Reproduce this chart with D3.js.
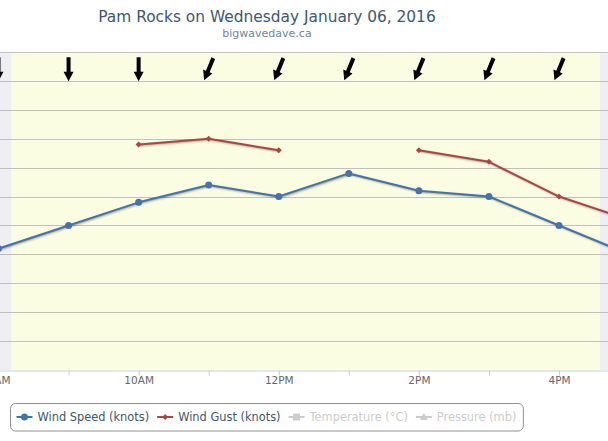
<!DOCTYPE html>
<html>
<head>
<meta charset="utf-8">
<script src="https://cdn.jsdelivr.net/npm/d3@7"></script>
<style>
  html, body { margin: 0; padding: 0; background: #ffffff; overflow: hidden; }
  svg { display: block; font-family: "DejaVu Sans", Verdana, sans-serif; }
</style>
</head>
<body>
<svg id="chart" width="608" height="441"></svg>
<script>
// ---------- data ----------
const times = ["2016-01-06T08:00", "2016-01-06T09:00", "2016-01-06T10:00", "2016-01-06T11:00", "2016-01-06T12:00",
               "2016-01-06T13:00", "2016-01-06T14:00", "2016-01-06T15:00", "2016-01-06T16:00", "2016-01-06T17:00"];
const windSpeed = [8.4, 10, 11.6, 12.8, 12, 13.6, 12.4, 12, 10, 8];
const windGust  = [null, null, 15.6, 16, 15.2, null, 15.2, 14.4, 12, 10.4];
const windDir   = [0, 0, 0, 22.5, 22.5, 22.5, 22.5, 22.5, 22.5, 22.5];
const daylight  = ["2016-01-06T08:11", "2016-01-06T16:35"];
const yTicks    = [0, 2, 4, 6, 8, 10, 12, 14, 16, 18, 20, 22];
const legendItems = [
  { name: "Wind Speed (knots)", color: "#4572A7", symbol: "circle", visible: true },
  { name: "Wind Gust (knots)",  color: "#AA4643", symbol: "diamond", visible: true },
  { name: "Temperature (°C)",   color: "#CCCCCC", symbol: "square", visible: false },
  { name: "Pressure (mb)",      color: "#CCCCCC", symbol: "triangle", visible: false }
];
const titleText = "Pam Rocks on Wednesday January 06, 2016";
const subtitleText = "bigwavedave.ca";

// ---------- setup ----------
const parse = d3.timeParse("%Y-%m-%dT%H:%M");
const T = times.map(parse);
const W = 608, H = 441;
const plotTop = 52, plotBottom = 370;
const svg = d3.select("#chart");

const x = d3.scaleTime().domain([T[0], T[T.length - 1]]).range([-1.5, 629.1]);
const y = d3.scaleLinear().domain([0, 22]).range([plotBottom, plotTop]);

// title
svg.append("text").attr("x", 267).attr("y", 22).attr("text-anchor", "middle")
  .attr("fill", "#3E576F").style("font-size", "15.4px").text(titleText);
svg.append("text").attr("x", 267).attr("y", 36.5).attr("text-anchor", "middle")
  .attr("fill", "#6D869F").style("font-size", "11px").text(subtitleText);

// plot background
const plot = svg.append("g");
plot.append("rect").attr("x", 0).attr("y", plotTop).attr("width", W).attr("height", plotBottom - plotTop)
  .attr("fill", "#EFEEF0");
const band = daylight.map(parse);
plot.append("rect").attr("x", x(band[0])).attr("y", plotTop)
  .attr("width", x(band[1]) - x(band[0])).attr("height", plotBottom - plotTop)
  .attr("fill", "#FBFDE2");

// gridlines
plot.selectAll("line.grid").data(yTicks.filter(v => v > 0)).join("line")
  .attr("class", "grid")
  .attr("x1", 0).attr("x2", W)
  .attr("y1", d => Math.round(y(d)) + 0.5).attr("y2", d => Math.round(y(d)) + 0.5)
  .attr("stroke", "#C0C0C0").attr("stroke-width", 1);

// x axis
const fmt = d3.timeFormat("%-I%p");
const xAxis = d3.axisBottom(x)
  .ticks(d3.timeHour.every(1))
  .tickSize(5).tickSizeOuter(0).tickPadding(1)
  .tickFormat(d => d.getHours() % 2 === 0 ? fmt(d) : "");
const gx = svg.append("g").attr("transform", `translate(0,${plotBottom + 0.5})`).call(xAxis);
gx.select(".domain").attr("stroke", "#C0D0E0");
gx.selectAll(".tick line").attr("stroke", "#C0D0E0");
gx.selectAll(".tick text").attr("fill", "#666666").style("font-size", "10.5px")
  .style("font-family", "DejaVu Sans, Verdana, sans-serif");

// wind direction arrows
const arrowPath = "M-2,-12 L2,-12 L2,2.5 L5,2.5 L0,12 L-5,2.5 L-2,2.5 Z";
svg.append("g").selectAll("path").data(T).join("path")
  .attr("d", arrowPath)
  .attr("fill", "#000000")
  .attr("transform", (d, i) => `translate(${x(d)},69.2) rotate(${windDir[i]})`);

// lines
function drawSeries(values, color, symbol) {
  const pts = T.map((t, i) => ({ t, v: values[i] }));
  const line = d3.line().defined(d => d.v !== null).x(d => x(d.t)).y(d => y(d.v));
  const g = svg.append("g");
  [[5, 0.05], [3, 0.1], [1, 0.15]].forEach(([w, o]) => {
    g.append("path").attr("d", line(pts)).attr("fill", "none")
      .attr("stroke", "#000").attr("stroke-opacity", o).attr("stroke-width", w)
      .attr("stroke-linejoin", "round").attr("transform", "translate(1,1)");
  });
  g.append("path").attr("d", line(pts)).attr("fill", "none")
    .attr("stroke", color).attr("stroke-width", 2).attr("stroke-linejoin", "round");
  g.selectAll("path.m").data(pts.filter(d => d.v !== null)).join("path")
    .attr("class", "m")
    .attr("d", symbol === "circle" ? d3.symbol(d3.symbolCircle, Math.PI * 3.5 * 3.5)() : "M0,-3L3,0L0,3L-3,0Z")
    .attr("fill", color)
    .attr("transform", d => `translate(${x(d.t)},${y(d.v)})`);
}
drawSeries(windSpeed, "#4572A7", "circle");
drawSeries(windGust, "#AA4643", "diamond");

// legend
const leg = svg.append("g");
const legBox = leg.append("rect");
let cx = 16.5;
const ly = 417;
const gap = 8;
legendItems.forEach(it => {
  const g = leg.append("g");
  g.append("line").attr("x1", cx).attr("x2", cx + 16).attr("y1", ly).attr("y2", ly)
    .attr("stroke", it.color).attr("stroke-width", 2);
  const mx = cx + 8;
  let d;
  if (it.symbol === "circle") d = d3.symbol(d3.symbolCircle, Math.PI * 3.5 * 3.5)();
  else if (it.symbol === "diamond") d = "M0,-3L3,0L0,3L-3,0Z";
  else if (it.symbol === "square") d = "M-3.5,-3.5L3.5,-3.5L3.5,3.5L-3.5,3.5Z";
  else d = "M0,-4L4,3L-4,3Z";
  g.append("path").attr("d", d).attr("fill", it.color).attr("transform", `translate(${mx},${ly})`);
  const t = g.append("text").attr("x", cx + 21).attr("y", ly + 4)
    .attr("fill", it.visible ? "#3E576F" : "#CCCCCC").style("font-size", "11.4px").text(it.name);
  const tw = t.node().getComputedTextLength();
  cx += 21 + tw + gap;
});
legBox.attr("x", 10.5).attr("y", 403.5).attr("width", (cx - gap + 7) - 10.5).attr("height", 27.5)
  .attr("rx", 5).attr("ry", 5).attr("fill", "#ffffff").attr("stroke", "#909090").attr("stroke-width", 1);
</script>
</body>
</html>
